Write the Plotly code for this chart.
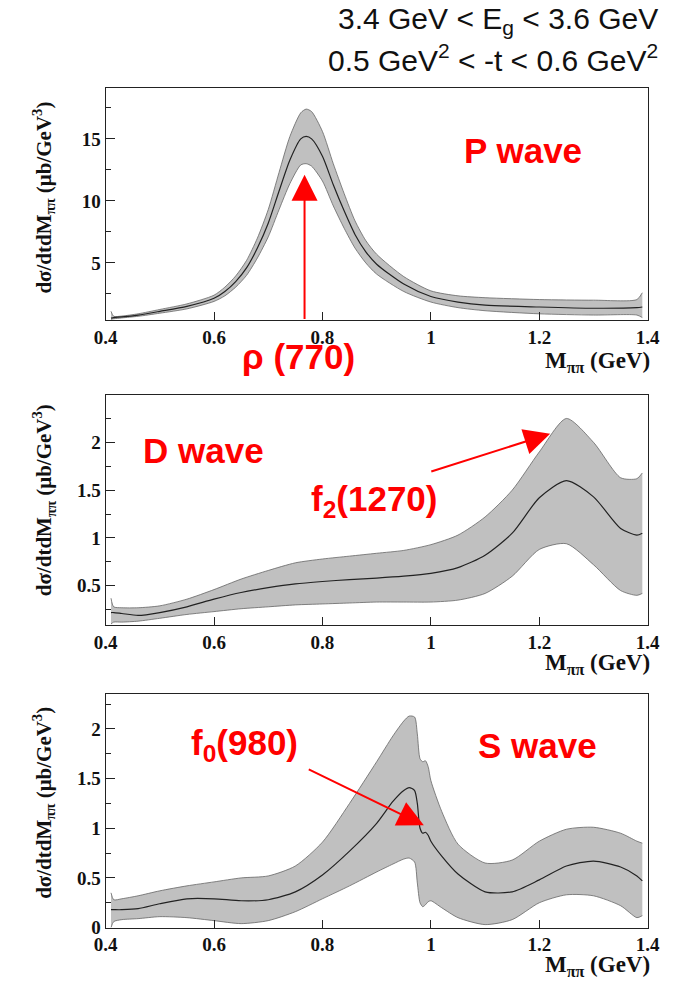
import plotly.graph_objects as go

# ---------------- data ----------------
# P wave
xp = [0.41, 0.415, 0.43, 0.46, 0.5, 0.55, 0.6, 0.62, 0.64, 0.66, 0.68, 0.70, 0.72, 0.74, 0.76,
      0.77, 0.78, 0.80, 0.82, 0.84, 0.86, 0.88, 0.90, 0.95, 1.0, 1.05, 1.1, 1.2, 1.3, 1.38, 1.39]
p_mid = [0.55, 0.6, 0.65, 0.8, 1.1, 1.5, 2.15, 2.7, 3.5, 4.6, 6.2, 8.2, 10.8, 13.3, 15.0,
         15.2, 15.0, 13.6, 11.3, 9.2, 7.3, 5.9, 4.9, 3.3, 2.3, 1.85, 1.6, 1.45, 1.35, 1.4, 1.45]
p_up = [1.1, 0.7, 0.72, 0.9, 1.25, 1.7, 2.4, 3.05, 3.95, 5.2, 7.0, 9.3, 12.3, 15.2, 17.1,
        17.4, 17.2, 15.6, 13.0, 10.6, 8.4, 6.8, 5.7, 3.9, 2.75, 2.35, 2.2, 2.05, 2.0, 2.05, 2.6]
p_lo = [0.45, 0.5, 0.57, 0.7, 0.95, 1.3, 1.9, 2.35, 3.05, 4.0, 5.4, 7.1, 9.3, 11.4, 12.9,
        13.0, 12.8, 11.6, 9.6, 7.8, 6.2, 5.0, 4.1, 2.7, 1.85, 1.4, 1.15, 0.9, 0.8, 0.8, 0.6]

# D wave
xd = [0.41, 0.415, 0.43, 0.46, 0.5, 0.55, 0.6, 0.65, 0.7, 0.75, 0.8, 0.85, 0.9, 0.95,
      1.0, 1.05, 1.1, 1.15, 1.2, 1.25, 1.3, 1.35, 1.38, 1.39]
d_mid = [0.22, 0.22, 0.21, 0.19, 0.22, 0.28, 0.36, 0.43, 0.48, 0.52, 0.545, 0.565, 0.58, 0.6,
         0.63, 0.69, 0.82, 1.05, 1.42, 1.60, 1.43, 1.1, 1.03, 1.05]
d_up = [0.37, 0.28, 0.27, 0.27, 0.29, 0.36, 0.46, 0.57, 0.66, 0.74, 0.78, 0.81, 0.84, 0.87,
        0.93, 1.03, 1.22, 1.50, 1.90, 2.25, 2.0, 1.63, 1.62, 1.68]
d_lo = [0.1, 0.12, 0.12, 0.13, 0.16, 0.2, 0.23, 0.26, 0.28, 0.30, 0.31, 0.32, 0.33, 0.33,
        0.33, 0.35, 0.42, 0.6, 0.88, 0.94, 0.72, 0.45, 0.40, 0.42]

# S wave
xs = [0.41, 0.415, 0.43, 0.46, 0.5, 0.55, 0.6, 0.65, 0.7, 0.75, 0.8, 0.85, 0.9, 0.93,
      0.95, 0.96, 0.97, 0.975, 0.98, 0.985, 0.99, 0.995, 1.0, 1.02, 1.05, 1.1, 1.15,
      1.2, 1.25, 1.3, 1.35, 1.38, 1.39]
s_mid = [0.18, 0.18, 0.18, 0.19, 0.24, 0.29, 0.29, 0.27, 0.28, 0.36, 0.53, 0.77, 1.05, 1.27,
         1.38, 1.41, 1.38, 1.25, 1.0, 0.95, 0.96, 0.93, 0.87, 0.72, 0.54, 0.36, 0.36,
         0.48, 0.62, 0.67, 0.61, 0.52, 0.47]
s_up = [0.35, 0.28, 0.29, 0.32, 0.37, 0.42, 0.46, 0.5, 0.52, 0.62, 0.86, 1.25, 1.67, 1.93,
        2.08, 2.13, 2.12, 1.95, 1.70, 1.67, 1.68, 1.62, 1.48, 1.17, 0.84, 0.65, 0.68,
        0.87, 0.99, 1.01, 0.95, 0.87, 0.85]
s_lo = [0.0, 0.06, 0.08, 0.09, 0.11, 0.1, 0.07, 0.04, 0.07, 0.16, 0.29, 0.42, 0.56, 0.64,
        0.69, 0.70, 0.66, 0.45, 0.25, 0.21, 0.23, 0.26, 0.27, 0.2, 0.1, 0.03, 0.08,
        0.25, 0.33, 0.32, 0.22, 0.1, 0.12]

x_ticks = [0.4, 0.6, 0.8, 1.0, 1.2, 1.4]
x_tick_text = ["0.4", "0.6", "0.8", "1", "1.2", "1.4"]

panels = [
    dict(x=xp, mid=p_mid, up=p_up, lo=p_lo, yr=[0.37, 19.1], yt=[5, 10, 15], minor=2.5,
         dom=[89, 324]),
    dict(x=xd, mid=d_mid, up=d_up, lo=d_lo, yr=[0.09, 2.50], yt=[0.5, 1, 1.5, 2], minor=0.25,
         dom=[399, 632]),
    dict(x=xs, mid=s_mid, up=s_up, lo=s_lo, yr=[0.0, 2.35], yt=[0, 0.5, 1, 1.5, 2], minor=0.25,
         dom=[702, 938]),
]

W, H = 680, 990
X0, X1 = 97, 659
fig = go.Figure()

serif = "Liberation Serif, Times New Roman, serif"
sans = "Liberation Sans, Arial, sans-serif"
RED = "#ff0000"
INK = "#222222"

layout = dict(width=W, height=H, margin=dict(l=0, r=0, t=0, b=0),
              paper_bgcolor="white", plot_bgcolor="white", showlegend=False)

for i, p in enumerate(panels):
    n = "" if i == 0 else str(i + 1)
    xa, ya = "x" + n, "y" + n
    shape = dict(shape="spline", smoothing=0.7)
    fig.add_trace(go.Scatter(x=p["x"], y=p["lo"], mode="lines", xaxis=xa, yaxis=ya,
                             line=dict(color="#666666", width=0.8, **shape), hoverinfo="skip"))
    fig.add_trace(go.Scatter(x=p["x"], y=p["up"], mode="lines", xaxis=xa, yaxis=ya,
                             fill="tonexty", fillcolor="#c0c0c0",
                             line=dict(color="#666666", width=0.8, **shape), hoverinfo="skip"))
    fig.add_trace(go.Scatter(x=p["x"], y=p["mid"], mode="lines", xaxis=xa, yaxis=ya,
                             line=dict(color="#222222", width=1.2, **shape), hoverinfo="skip"))
    y0, y1 = p["dom"]
    layout["xaxis" + n] = dict(
        domain=[X0 / W, X1 / W], range=[0.4, 1.4], anchor=ya,
        tickvals=x_ticks, ticktext=x_tick_text, ticks="inside", ticklen=8,
        tickcolor=INK, showline=True, linecolor=INK, linewidth=1, mirror=True,
        showgrid=False, zeroline=False,
        tickfont=dict(family=serif, size=19, color="#111", weight="bold"))
    layout["yaxis" + n] = dict(
        domain=[1 - y1 / H, 1 - y0 / H], range=p["yr"], anchor=xa,
        tickvals=p["yt"], ticks="inside", ticklen=9, tickcolor=INK,
        showline=True, linecolor=INK, linewidth=1, mirror=True,
        showgrid=False, zeroline=False,
        minor=dict(dtick=p["minor"], ticks="inside", ticklen=5, tickcolor=INK, showgrid=False),
        tickfont=dict(family=serif, size=19, color="#111", weight="bold"))

fig.update_layout(**layout)

ann = []
# header
ann.append(dict(text="3.4 GeV &lt; E<sub>g</sub> &lt; 3.6 GeV", x=672 / W, y=1 - 21 / H,
                xref="paper", yref="paper", xanchor="right", yanchor="middle", showarrow=False,
                font=dict(family=sans, size=30, color="#111")))
ann.append(dict(text="0.5 GeV<sup>2</sup> &lt; -t &lt; 0.6 GeV<sup>2</sup>", x=672 / W, y=1 - 59 / H,
                xref="paper", yref="paper", xanchor="right", yanchor="middle", showarrow=False,
                font=dict(family=sans, size=30, color="#111")))

ytitle = "<b>dσ/dtdM<sub>ππ</sub> (μb/GeV<sup>3</sup>)</b>"
for yc in [200, 506, 812]:
    ann.append(dict(text=ytitle, textangle=-90, x=33 / W, y=1 - yc / H, xref="paper", yref="paper",
                    xanchor="center", yanchor="middle", showarrow=False,
                    font=dict(family=serif, size=21, color="#111")))
for yc in [366, 671, 977]:
    ann.append(dict(text="<b>M<sub>ππ</sub> (GeV)</b>", x=(X1 + 4) / W, y=1 - yc / H, xref="paper",
                    yref="paper", xanchor="right", yanchor="middle", showarrow=False,
                    font=dict(family=serif, size=23, color="#111")))

# red labels
def red(text, xc, yc, size=35):
    ann.append(dict(text="<b>" + text + "</b>", x=xc / W, y=1 - yc / H, xref="paper", yref="paper",
                    xanchor="center", yanchor="middle", showarrow=False,
                    font=dict(family=sans, size=size, color=RED)))

red("P wave", 530, 152)
red("ρ (770)", 297, 361)
red("D wave", 199, 456)
red("f<sub>2</sub>(1270)", 375, 507)
red("f<sub>0</sub>(980)", 241, 753)
red("S wave", 545, 754)

# arrows
arrows = [
    dict(xref="x", yref="y", x=0.767, y=12.1, ax=0.767, ay=0.37),
    dict(xref="x2", yref="y2", x=1.22, y=2.09, ax=0.998, ay=1.69),
    dict(xref="x3", yref="y3", x=0.987, y=1.03, ax=0.772, ay=1.6),
]
for a in arrows:
    ann.append(dict(text="", showarrow=True, axref=a["xref"], ayref=a["yref"],
                    arrowhead=2, arrowsize=2.6, arrowwidth=2, arrowcolor=RED, **a))

fig.update_layout(annotations=ann)
fig.write_html("out.html")
